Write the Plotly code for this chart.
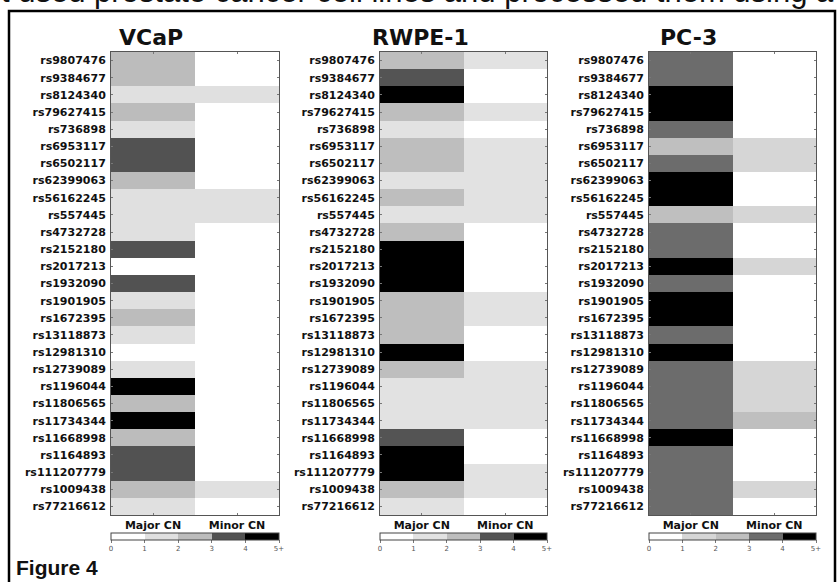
import plotly.graph_objects as go

snps = ["rs9807476", "rs9384677", "rs8124340", "rs79627415", "rs736898", "rs6953117",
        "rs6502117", "rs62399063", "rs56162245", "rs557445", "rs4732728", "rs2152180",
        "rs2017213", "rs1932090", "rs1901905", "rs1672395", "rs13118873", "rs12981310",
        "rs12739089", "rs1196044", "rs11806565", "rs11734344", "rs11668998", "rs1164893",
        "rs111207779", "rs1009438", "rs77216612"]
columns = ["Major CN", "Minor CN"]

# copy-number classes: 0,1,2,3, 4 = "4 to 5+"
vcap_major = [2, 2, 1, 2, 1, 3, 3, 2, 1, 1, 1, 3, 0, 3, 1, 2, 1, 0, 1, 4, 2, 4, 2, 3, 3, 2, 1]
vcap_minor = [0, 0, 1, 0, 0, 0, 0, 0, 1, 1, 0, 0, 0, 0, 0, 0, 0, 0, 0, 0, 0, 0, 0, 0, 0, 1, 0]
rwpe_major = [2, 3, 4, 2, 1, 2, 2, 1, 2, 1, 2, 4, 4, 4, 2, 2, 2, 4, 2, 1, 1, 1, 3, 4, 4, 2, 1]
rwpe_minor = [1, 0, 0, 1, 0, 1, 1, 1, 1, 1, 0, 0, 0, 0, 1, 1, 0, 0, 1, 1, 1, 1, 0, 0, 1, 1, 0]
pc3_major = [3, 3, 4, 4, 3, 2, 3, 4, 4, 2, 3, 3, 4, 3, 4, 4, 3, 4, 3, 3, 3, 3, 4, 3, 3, 3, 3]
pc3_minor = [0, 0, 0, 0, 0, 1, 1, 0, 0, 1, 0, 0, 1, 0, 0, 0, 0, 0, 1, 1, 1, 2, 0, 0, 0, 1, 0]

panel_titles = ["VCaP", "RWPE-1", "PC-3"]
cbar_tickvals = [0, 1, 2, 3, 4, 5]
cbar_ticktext = ["0", "1", "2", "3", "4", "5+"]

panels = [(vcap_major, vcap_minor), (rwpe_major, rwpe_minor), (pc3_major, pc3_minor)]
panel_colors = [
    ["#ffffff", "#e0e0e0", "#bcbcbc", "#525252", "#000000"],
    ["#ffffff", "#e2e2e2", "#bebebe", "#545454", "#000000"],
    ["#ffffff", "#d6d6d6", "#bfbfbf", "#6c6c6c", "#000000"],
]

W, H = 839, 582
def px(x):
    return x / W
def py(y):
    return 1 - y / H

x_domains = [(111, 279), (380, 547), (649, 816)]
title_x = [151, 420, 688]
y_top, y_bot = 52, 515

def discrete_scale(cols):
    scale = []
    n = len(cols)
    for i, c in enumerate(cols):
        scale.append([i / n, c])
        scale.append([(i + 1) / n, c])
    return scale

fig = go.Figure()
layout = dict(
    width=W, height=H,
    margin=dict(l=0, r=0, t=0, b=0),
    paper_bgcolor="white", plot_bgcolor="white",
    showlegend=False,
)

annotations = []
for i, ((major, minor), title) in enumerate(zip(panels, panel_titles)):
    n = "" if i == 0 else str(i + 1)
    z = [[ma + 0.5, mi + 0.5] for ma, mi in zip(major, minor)]
    fig.add_trace(go.Heatmap(
        z=z, x=columns, y=snps,
        coloraxis="coloraxis" + n,
        xaxis="x" + n, yaxis="y" + n,
        xgap=0, ygap=0,
        hovertemplate="%{y} %{x}<extra></extra>",
    ))
    x0, x1 = x_domains[i]
    layout["xaxis" + n] = dict(
        domain=[px(x0), px(x1)], anchor="y" + n,
        showline=True, linecolor="#555", linewidth=1, mirror="ticks",
        ticks="inside", ticklen=2, tickcolor="#777",
        tickfont=dict(family="DejaVu Sans", size=11, color="#111", weight="bold"),
        showgrid=False, zeroline=False, fixedrange=True,
    )
    layout["yaxis" + n] = dict(
        domain=[py(y_bot), py(y_top)], anchor="x" + n,
        autorange="reversed",
        showline=True, linecolor="#555", linewidth=1, mirror="ticks",
        ticks="inside", ticklen=2, tickcolor="#777",
        tickfont=dict(family="DejaVu Sans", size=11, color="#111", weight="bold"),
        ticklabelstandoff=2,
        showgrid=False, zeroline=False, fixedrange=True,
    )
    layout["coloraxis" + n] = dict(
        colorscale=discrete_scale(panel_colors[i]), cmin=0, cmax=5,
        colorbar=dict(
            orientation="h", x=px(x0), xanchor="left", y=py(533), yanchor="top",
            len=x1 - x0, lenmode="pixels", thickness=7, thicknessmode="pixels",
            xpad=0, ypad=0,
            tickvals=cbar_tickvals, ticktext=cbar_ticktext,
            ticks="outside", ticklen=3, tickcolor="#777",
            tickfont=dict(family="DejaVu Sans", size=7, color="#555"),
            outlinewidth=1, outlinecolor="#444",
        ),
    )
    annotations.append(dict(
        text=title, x=px(title_x[i]), y=py(37), xref="paper", yref="paper",
        xanchor="center", yanchor="middle", showarrow=False,
        font=dict(family="DejaVu Sans", size=22, color="#111", weight="bold"),
    ))

annotations.append(dict(
    text="Figure 4", x=px(14), y=py(567), xref="paper", yref="paper",
    xanchor="left", yanchor="middle", showarrow=False,
    font=dict(family="Liberation Sans", size=21, color="#111", weight="bold"),
))
annotations.append(dict(
    text="t used prostate cancer cell lines and processed them using a",
    x=px(-1), y=py(-9), xref="paper", yref="paper",
    xanchor="left", yanchor="middle", showarrow=False,
    font=dict(family="Liberation Sans", size=31, color="#111"),
))

layout["annotations"] = annotations
layout["shapes"] = [dict(
    type="rect", xref="paper", yref="paper",
    x0=px(9), x1=px(835), y0=py(600), y1=py(11),
    line=dict(color="black", width=2.5), fillcolor="rgba(0,0,0,0)", layer="above",
)]

fig.update_layout(**layout)
fig.write_html("out.html", config={"displayModeBar": False},
               post_script="document.body.style.margin='0';document.body.style.overflow='hidden';")
